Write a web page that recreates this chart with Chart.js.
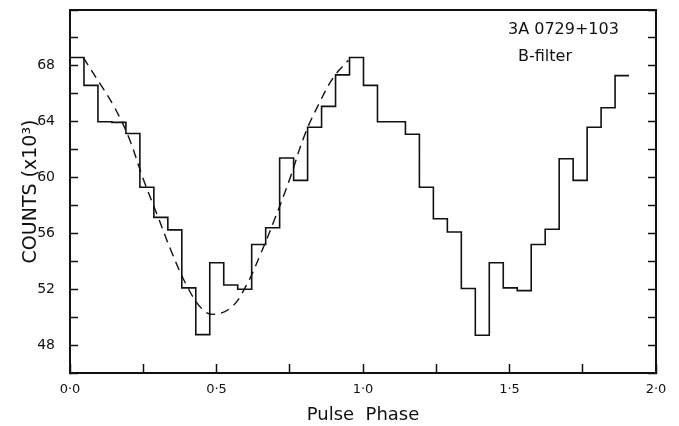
<!DOCTYPE html>
<html>
<head>
<meta charset="utf-8">
<script src="https://cdn.jsdelivr.net/npm/chart.js@4"></script>
<style>
  html, body { margin: 0; padding: 0; background: #fff; }
  #wrap { width: 679px; height: 426px; }
</style>
</head>
<body>
<div id="wrap"><canvas id="chart-pulse"></canvas></div>
<script>
// B-filter pulse profile, 40 phase bins (two cycles plotted)
const binWidth = 0.0477;
const binCounts = [
  68.6, 66.6, 64.0, 63.95, 63.15, 59.3, 57.15, 56.25, 52.1, 48.75,
  53.9, 52.3, 52.0, 55.2, 56.4, 61.4, 59.8, 63.6, 65.1, 67.35,
  68.6, 66.6, 64.0, 64.0, 63.1, 59.3, 57.05, 56.1, 52.05, 48.7,
  53.9, 52.1, 51.9, 55.2, 56.3, 61.35, 59.8, 63.6, 65.0, 67.3,
];

// dashed fitted curve (first cycle only)
const fitPhase = [0.045, 0.1, 0.15, 0.2, 0.25, 0.3, 0.35, 0.4, 0.45, 0.49,
  0.55, 0.6, 0.65, 0.7, 0.75, 0.8, 0.85, 0.9, 0.95];
const fitCounts = [68.6, 66.8, 65.1, 62.9, 59.9, 57.2, 54.5, 52.2, 50.6, 50.2,
  50.7, 52.2, 54.5, 57.1, 59.9, 63.0, 65.3, 67.2, 68.4];

const yLabelled = [48, 52, 56, 60, 64, 68];

const labelFont = "'DejaVu Sans', sans-serif";

const histPoints = binCounts.map((v, i) => ({ x: i * binWidth, y: v }));
histPoints.push({ x: binCounts.length * binWidth, y: binCounts[binCounts.length - 1] });

const fitPoints = fitPhase.map((p, i) => ({ x: p, y: fitCounts[i] }));

// no auto padding from edge tick labels, the frame is placed by hand
const noEdgePad = (s) => {
  s.paddingTop = 0;
  s.paddingBottom = 0;
  s.paddingLeft = 0;
  s.paddingRight = 0;
};

const labelPlugin = {
  id: "labelText",
  afterDraw(chart) {
    const ctx = chart.ctx;
    ctx.save();
    ctx.fillStyle = "#111";
    ctx.font = "16px " + labelFont;
    ctx.textBaseline = "middle";
    ctx.textAlign = "left";
    ctx.fillText("3A 0729+103", 508, 30);
    ctx.fillText("B-filter", 518, 57);
    ctx.restore();
  },
};

const ctxPulse = document.getElementById("chart-pulse");

new Chart(ctxPulse, {
  type: "line",
  data: {
    datasets: [
      {
        label: "counts",
        data: histPoints,
        stepped: "before",
        borderColor: "#111",
        borderWidth: 1.6,
        pointRadius: 0,
        fill: false,
      },
      {
        label: "fit",
        data: fitPoints,
        borderColor: "#111",
        borderWidth: 1.4,
        borderDash: [9, 6],
        pointRadius: 0,
        tension: 0.4,
        fill: false,
      },
    ],
  },
  options: {
    responsive: true,
    maintainAspectRatio: false,
    animation: false,
    layout: { padding: { left: 0, top: 10, right: 23, bottom: 0 } },
    plugins: {
      legend: { display: false },
      tooltip: { enabled: false },
    },
    scales: {
      x: {
        type: "linear",
        position: "bottom",
        min: 0,
        max: 2,
        afterFit: (s) => { s.height = 53; noEdgePad(s); },
        border: { display: true, color: "#111", width: 2 },
        grid: { drawOnChartArea: false, color: "#111", tickLength: -9, tickWidth: 1.5 },
        ticks: {
          stepSize: 0.25,
          padding: 18,
          color: "#111",
          font: { family: labelFont, size: 13 },
          maxRotation: 0,
          callback: (v) => (Math.abs(v * 2 - Math.round(v * 2)) < 1e-6 ? v.toFixed(1).replace(".", "·") : ""),
        },
        title: {
          display: true,
          text: "Pulse  Phase",
          color: "#111",
          font: { family: labelFont, size: 18 },
          padding: { top: 0, bottom: 0 },
        },
      },
      xTop: {
        type: "linear",
        position: "top",
        min: 0,
        max: 2,
        afterFit: (s) => { s.height = 0; noEdgePad(s); },
        border: { display: true, color: "#111", width: 2 },
        grid: { display: false },
        ticks: { display: false },
      },
      y: {
        position: "left",
        min: 46,
        max: 72,
        afterFit: (s) => { s.width = 70; noEdgePad(s); },
        border: { display: true, color: "#111", width: 2 },
        grid: { drawOnChartArea: false, color: "#111", tickLength: -8, tickWidth: 1.5 },
        ticks: {
          stepSize: 2,
          padding: 23,
          color: "#111",
          font: { family: labelFont, size: 14 },
          callback: (v) => (yLabelled.includes(v) ? String(v) : ""),
        },
        title: {
          display: true,
          text: "COUNTS (x10³)",
          color: "#111",
          font: { family: labelFont, size: 19 },
          padding: { top: 20, bottom: 0 },
        },
      },
      yRight: {
        position: "right",
        min: 46,
        max: 72,
        afterFit: (s) => { s.width = 0; noEdgePad(s); },
        border: { display: true, color: "#111", width: 2 },
        grid: { drawOnChartArea: false, color: "#111", tickLength: -8, tickWidth: 1.5 },
        ticks: { stepSize: 2, callback: () => "" },
      },
    },
  },
  plugins: [labelPlugin],
});
</script>
</body>
</html>
